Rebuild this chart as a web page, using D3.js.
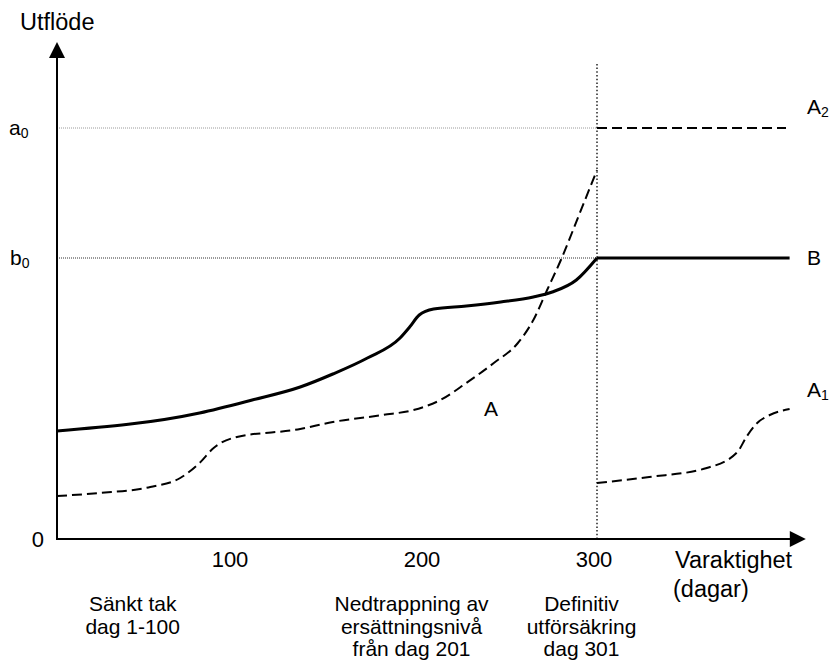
<!DOCTYPE html>
<html>
<head>
<meta charset="utf-8">
<script src="https://cdn.jsdelivr.net/npm/d3@7"></script>
<style>
  html, body { margin: 0; padding: 0; background: #fff; }
  svg text { font-family: "Liberation Sans", Arial, sans-serif; fill: #000; }
</style>
</head>
<body>
<svg id="chart" width="831" height="663"></svg>
<script>
// ---- data ----
const xTickValues = [100, 200, 300];
const xTickLabels = ["100", "200", "300"];
const levelA0 = 411;   // a0
const levelB0 = 281;   // b0
const cutoffDay = 300;

// Solid curve B (before cut-off)
const bDays   = [0, 81, 110, 135, 152, 170, 187, 192, 197, 205, 224, 244, 263, 274, 288, 300];
const bValues = [108, 126, 139, 152, 165, 181, 201, 212, 224, 230, 233, 237, 242, 247, 259, 281];
// Solid B after cut-off (flat)
const bFlatDays   = [300, 407];
const bFlatValues = [281, 281];

// Dashed curve A
const aDays   = [0, 24, 53, 70, 81, 89, 100, 135, 152, 178, 194, 209, 224, 240, 254, 263, 271, 279, 290, 300];
const aValues = [43, 46, 52, 61, 76, 91, 101, 110, 117, 124, 129, 139, 156, 176, 196, 219, 249, 279, 326, 369];

// Dashed A2 (flat at a0)
const a2Days   = [300, 405];
const a2Values = [411, 411];

// Dashed A1
const a1Days   = [300, 329, 361, 378, 383, 389, 396, 407];
const a1Values = [56, 62, 71, 87, 102, 116, 124, 130];

// ---- scales ----
const svg = d3.select("#chart");
const x = d3.scaleLinear().domain([0, 100, 200, 300, 400]).range([57, 233, 425, 597, 777]);
const y = d3.scaleLinear().domain([0, 500]).range([539, 39]);
const xMaxDay = 416, yMaxVal = 497;

const zip = (ds, vs) => ds.map((d, i) => [d, vs[i]]);
const lineSmooth = d3.line().x(d => x(d[0])).y(d => y(d[1])).curve(d3.curveMonotoneX);
const lineStraight = d3.line().x(d => x(d[0])).y(d => y(d[1]));

// ---- reference lines ----
svg.append("line")
  .attr("x1", x(0)).attr("x2", x(cutoffDay))
  .attr("y1", y(levelA0)).attr("y2", y(levelA0))
  .attr("stroke", "#9a9a9a").attr("stroke-width", 1).attr("stroke-dasharray", "1,1");
svg.append("line")
  .attr("x1", x(0)).attr("x2", x(cutoffDay))
  .attr("y1", y(levelB0)).attr("y2", y(levelB0))
  .attr("stroke", "#333").attr("stroke-width", 1).attr("stroke-dasharray", "1,1");
svg.append("line")
  .attr("x1", x(cutoffDay)).attr("x2", x(cutoffDay))
  .attr("y1", y(0)).attr("y2", y(477))
  .attr("stroke", "#000").attr("stroke-width", 1.3).attr("stroke-dasharray", "1.5,2.2");

// ---- curves ----
const dashed = { w: 2, dash: "10,5" };
[[aDays, aValues, lineSmooth], [a2Days, a2Values, lineStraight], [a1Days, a1Values, lineSmooth]]
  .forEach(([ds, vs, gen]) => {
    svg.append("path").datum(zip(ds, vs))
      .attr("d", gen).attr("fill", "none")
      .attr("stroke", "#000").attr("stroke-width", dashed.w).attr("stroke-dasharray", dashed.dash);
  });
svg.append("path").datum(zip(bDays, bValues))
  .attr("d", lineSmooth).attr("fill", "none")
  .attr("stroke", "#000").attr("stroke-width", 3).attr("stroke-linejoin", "round");
svg.append("path").datum(zip(bFlatDays, bFlatValues))
  .attr("d", lineStraight).attr("fill", "none")
  .attr("stroke", "#000").attr("stroke-width", 3);

// ---- axes with arrows ----
const x0 = x(0), y0 = y(0);
svg.append("line").attr("x1", x0).attr("x2", x0).attr("y1", y0 + 1).attr("y2", y(yMaxVal) + 14)
  .attr("stroke", "#000").attr("stroke-width", 2);
svg.append("line").attr("x1", x0 - 1).attr("x2", x(xMaxDay) - 14).attr("y1", y0).attr("y2", y0)
  .attr("stroke", "#000").attr("stroke-width", 2);
const yTip = y(yMaxVal);
svg.append("path").attr("d", `M${x0},${yTip} L${x0 - 8},${yTip + 16} L${x0 + 8},${yTip + 16} Z`).attr("fill", "#000");
const xTip = x(xMaxDay);
svg.append("path").attr("d", `M${xTip},${y0} L${xTip - 16},${y0 - 8} L${xTip - 16},${y0 + 8} Z`).attr("fill", "#000");

// ---- text ----
const fs = 21;
function txt(tx, ty, s, anchor, size) {
  return svg.append("text").attr("x", tx).attr("y", ty)
    .attr("text-anchor", anchor || "start").attr("font-size", size || fs).text(s);
}
txt(20, 30, "Utflöde", "start", 23.5);
// tick labels
xTickValues.forEach((v, i) => txt(x(v) - 3, y0 + 28, xTickLabels[i], "middle", 22));
txt(x0 - 13, y0 + 8, "0", "end", 22);

// a0, b0 with subscripts
function subLabel(tx, ty, main, sub) {
  const t = svg.append("text").attr("x", tx).attr("y", ty).attr("font-size", fs);
  t.append("tspan").text(main);
  t.append("tspan").attr("font-size", 14).attr("dy", 3).text(sub);
  return t;
}
subLabel(9, y(levelA0) + 7, "a", "0");
subLabel(10, y(levelB0) + 7, "b", "0");
subLabel(807, y(a2Values[0]) - 14, "A", "2");
txt(807, y(levelB0) + 7, "B");
subLabel(807, y(a1Values[a1Values.length - 1]) - 12, "A", "1");
txt(491, 416, "A", "middle");

// axis title
txt(675, 568, "Varaktighet", "start", 23.5);
txt(673, 597, "(dagar)", "start", 23.5);

// period annotations
const notes = [
  { day: 43,  lines: ["Sänkt tak", "dag 1-100"] },
  { day: 193, lines: ["Nedtrappning av", "ersättningsnivå", "från dag 201"] },
  { day: 291, lines: ["Definitiv", "utförsäkring", "dag 301"] }
];
notes.forEach(n => {
  n.lines.forEach((l, i) => txt(x(n.day), 611 + i * 22.5, l, "middle"));
});
</script>
</body>
</html>
